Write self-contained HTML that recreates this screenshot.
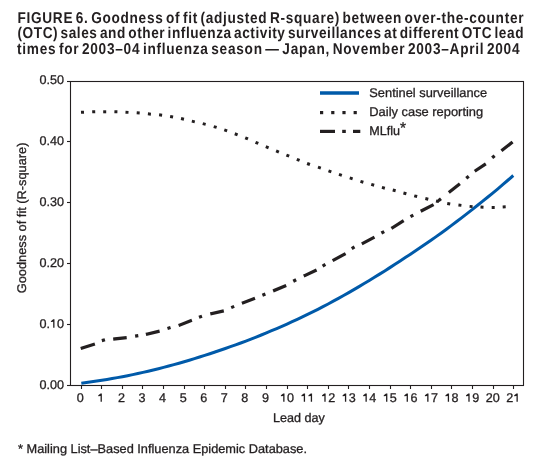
<!DOCTYPE html>
<html><head><meta charset="utf-8"><style>
html,body{margin:0;padding:0;background:#fff;}
body{width:558px;height:456px;overflow:hidden;position:relative;}
svg{position:absolute;left:0;top:0;will-change:transform;}
text{font-family:"Liberation Sans",sans-serif;fill:#231f20;text-rendering:geometricPrecision;}
.t{word-spacing:-2.2px;font-weight:bold;font-size:15.7px;}
.l{font-size:12.6px;stroke:#231f20;stroke-width:0.3px;}
</style></head><body>
<svg width="558" height="456" viewBox="0 0 558 456">
<g class="t">
<text transform="translate(17.5,23.0) scale(0.87,1)" textLength="581.6" lengthAdjust="spacing">FIGURE 6. Goodness of fit (adjusted R-square) between over-the-counter</text>
<text transform="translate(17.5,38.4) scale(0.87,1)" textLength="581.6" lengthAdjust="spacing">(OTC) sales and other influenza activity surveillances at different OTC lead</text>
<text transform="translate(17,54.0) scale(0.87,1)" textLength="577.6" lengthAdjust="spacing">times for 2003–04 influenza season — Japan, November 2003–April 2004</text>
</g>
<g stroke="#231f20" stroke-width="1.1" fill="none">
<rect x="70.5" y="81.5" width="453" height="304"/>
<line x1="67" y1="81.5" x2="70.5" y2="81.5"/><line x1="67" y1="141.5" x2="70.5" y2="141.5"/><line x1="67" y1="202.5" x2="70.5" y2="202.5"/><line x1="67" y1="263.5" x2="70.5" y2="263.5"/><line x1="67" y1="324.5" x2="70.5" y2="324.5"/><line x1="67" y1="385.5" x2="70.5" y2="385.5"/><line x1="81.5" y1="385.5" x2="81.5" y2="389"/><line x1="101.5" y1="385.5" x2="101.5" y2="389"/><line x1="122.5" y1="385.5" x2="122.5" y2="389"/><line x1="142.5" y1="385.5" x2="142.5" y2="389"/><line x1="163.5" y1="385.5" x2="163.5" y2="389"/><line x1="184.5" y1="385.5" x2="184.5" y2="389"/><line x1="204.5" y1="385.5" x2="204.5" y2="389"/><line x1="225.5" y1="385.5" x2="225.5" y2="389"/><line x1="245.5" y1="385.5" x2="245.5" y2="389"/><line x1="266.5" y1="385.5" x2="266.5" y2="389"/><line x1="287.5" y1="385.5" x2="287.5" y2="389"/><line x1="307.5" y1="385.5" x2="307.5" y2="389"/><line x1="328.5" y1="385.5" x2="328.5" y2="389"/><line x1="348.5" y1="385.5" x2="348.5" y2="389"/><line x1="369.5" y1="385.5" x2="369.5" y2="389"/><line x1="390.5" y1="385.5" x2="390.5" y2="389"/><line x1="410.5" y1="385.5" x2="410.5" y2="389"/><line x1="431.5" y1="385.5" x2="431.5" y2="389"/><line x1="451.5" y1="385.5" x2="451.5" y2="389"/><line x1="472.5" y1="385.5" x2="472.5" y2="389"/><line x1="493.5" y1="385.5" x2="493.5" y2="389"/><line x1="513.5" y1="385.5" x2="513.5" y2="389"/>
</g>
<g class="l">
<text x="64.00" y="83.8" text-anchor="end">0.50</text><text x="64.00" y="144.8" text-anchor="end">0.40</text><text x="64.00" y="205.8" text-anchor="end">0.30</text><text x="64.00" y="266.8" text-anchor="end">0.20</text><text x="64.00" y="327.8" text-anchor="end">0. 0</text><text x="64.00" y="388.8" text-anchor="end">0.00</text><text x="80.30" y="402" text-anchor="middle">0</text><text x="100.87" y="402" text-anchor="middle"> </text><text x="121.44" y="402" text-anchor="middle">2</text><text x="142.01" y="402" text-anchor="middle">3</text><text x="162.58" y="402" text-anchor="middle">4</text><text x="183.16" y="402" text-anchor="middle">5</text><text x="203.73" y="402" text-anchor="middle">6</text><text x="224.30" y="402" text-anchor="middle">7</text><text x="244.87" y="402" text-anchor="middle">8</text><text x="265.44" y="402" text-anchor="middle">9</text><text x="287.01" y="402" text-anchor="middle"> 0</text><text x="307.58" y="402" text-anchor="middle">  </text><text x="328.15" y="402" text-anchor="middle"> 2</text><text x="348.72" y="402" text-anchor="middle"> 3</text><text x="369.29" y="402" text-anchor="middle"> 4</text><text x="389.87" y="402" text-anchor="middle"> 5</text><text x="410.44" y="402" text-anchor="middle"> 6</text><text x="431.01" y="402" text-anchor="middle"> 7</text><text x="451.58" y="402" text-anchor="middle"> 8</text><text x="472.15" y="402" text-anchor="middle"> 9</text><text x="492.72" y="402" text-anchor="middle">20</text><text x="513.29" y="402" text-anchor="middle">2 </text>
<text x="273" y="421.5">Lead day</text>
<text transform="translate(25.6,293.2) rotate(-90)" textLength="150.6" lengthAdjust="spacingAndGlyphs">Goodness of fit (R-square)</text>
<text x="18" y="452.8" textLength="289" lengthAdjust="spacingAndGlyphs">* Mailing List–Based Influenza Epidemic Database.</text>
<text x="369.3" y="96.6" textLength="117.8" lengthAdjust="spacingAndGlyphs">Sentinel surveillance</text>
<text x="369.3" y="115.7" textLength="113.9" lengthAdjust="spacingAndGlyphs">Daily case reporting</text>
<text x="369.3" y="134.8">MLflu<tspan dy="-2.1" font-size="15.5px">*</tspan></text>
</g>
<polyline points="81.30,383.25 86.44,382.58 91.59,381.86 96.73,381.10 101.87,380.30 107.01,379.46 112.16,378.57 117.30,377.64 122.44,376.67 127.58,375.66 132.73,374.61 137.87,373.52 143.01,372.39 148.16,371.21 153.30,369.99 158.44,368.73 163.58,367.42 168.73,366.07 173.87,364.67 179.01,363.23 184.16,361.75 189.30,360.22 194.44,358.66 199.58,357.05 204.73,355.40 209.87,353.72 215.01,352.01 220.15,350.27 225.30,348.50 230.44,346.70 235.58,344.86 240.73,342.98 245.87,341.06 251.01,339.09 256.15,337.08 261.30,335.01 266.44,332.90 271.58,330.74 276.72,328.54 281.87,326.31 287.01,324.04 292.15,321.72 297.30,319.36 302.44,316.94 307.58,314.47 312.72,311.94 317.87,309.35 323.01,306.70 328.15,303.97 333.29,301.19 338.44,298.37 343.58,295.50 348.72,292.58 353.87,289.62 359.01,286.62 364.15,283.57 369.29,280.47 374.44,277.33 379.58,274.14 384.72,270.91 389.87,267.63 395.01,264.32 400.15,260.99 405.29,257.62 410.44,254.23 415.58,250.79 420.72,247.32 425.86,243.80 431.01,240.23 436.15,236.61 441.29,232.92 446.44,229.18 451.58,225.37 456.72,221.51 461.86,217.59 467.01,213.63 472.15,209.61 477.29,205.55 482.43,201.44 487.58,197.28 492.72,193.08 497.86,188.80 503.01,184.43 508.15,179.99 513.29,175.50" fill="none" stroke="#005aa9" stroke-width="3.0" stroke-linejoin="round"/>
<g fill="#231f20"><rect x="-1.5" y="-1.5" width="3" height="3" transform="translate(82.50,112.30) rotate(-2.6)"/><rect x="-1.5" y="-1.5" width="3" height="3" transform="translate(93.70,111.80) rotate(-1.3)"/><rect x="-1.5" y="-1.5" width="3" height="3" transform="translate(104.70,111.80) rotate(0.0)"/><rect x="-1.5" y="-1.5" width="3" height="3" transform="translate(115.90,111.80) rotate(1.3)"/><rect x="-1.5" y="-1.5" width="3" height="3" transform="translate(127.00,112.30) rotate(2.8)"/><rect x="-1.5" y="-1.5" width="3" height="3" transform="translate(138.20,112.90) rotate(4.3)"/><rect x="-1.5" y="-1.5" width="3" height="3" transform="translate(149.40,114.00) rotate(5.4)"/><rect x="-1.5" y="-1.5" width="3" height="3" transform="translate(160.60,115.00) rotate(7.2)"/><rect x="-1.5" y="-1.5" width="3" height="3" transform="translate(171.60,116.80) rotate(10.1)"/><rect x="-1.5" y="-1.5" width="3" height="3" transform="translate(182.50,118.90) rotate(12.2)"/><rect x="-1.5" y="-1.5" width="3" height="3" transform="translate(193.30,121.50) rotate(13.2)"/><rect x="-1.5" y="-1.5" width="3" height="3" transform="translate(204.20,124.00) rotate(14.1)"/><rect x="-1.5" y="-1.5" width="3" height="3" transform="translate(215.20,127.00) rotate(16.6)"/><rect x="-1.5" y="-1.5" width="3" height="3" transform="translate(225.70,130.40) rotate(19.2)"/><rect x="-1.5" y="-1.5" width="3" height="3" transform="translate(236.20,134.30) rotate(20.9)"/><rect x="-1.5" y="-1.5" width="3" height="3" transform="translate(246.60,138.40) rotate(22.6)"/><rect x="-1.5" y="-1.5" width="3" height="3" transform="translate(256.90,142.90) rotate(23.1)"/><rect x="-1.5" y="-1.5" width="3" height="3" transform="translate(267.20,147.20) rotate(22.7)"/><rect x="-1.5" y="-1.5" width="3" height="3" transform="translate(277.50,151.50) rotate(22.2)"/><rect x="-1.5" y="-1.5" width="3" height="3" transform="translate(287.80,155.60) rotate(22.1)"/><rect x="-1.5" y="-1.5" width="3" height="3" transform="translate(298.20,159.90) rotate(22.1)"/><rect x="-1.5" y="-1.5" width="3" height="3" transform="translate(308.50,164.00) rotate(20.0)"/><rect x="-1.5" y="-1.5" width="3" height="3" transform="translate(319.40,167.60) rotate(18.8)"/><rect x="-1.5" y="-1.5" width="3" height="3" transform="translate(329.90,171.30) rotate(19.2)"/><rect x="-1.5" y="-1.5" width="3" height="3" transform="translate(340.40,174.90) rotate(18.4)"/><rect x="-1.5" y="-1.5" width="3" height="3" transform="translate(351.20,178.40) rotate(17.8)"/><rect x="-1.5" y="-1.5" width="3" height="3" transform="translate(361.90,181.80) rotate(16.6)"/><rect x="-1.5" y="-1.5" width="3" height="3" transform="translate(372.70,184.80) rotate(15.6)"/><rect x="-1.5" y="-1.5" width="3" height="3" transform="translate(383.40,187.80) rotate(14.6)"/><rect x="-1.5" y="-1.5" width="3" height="3" transform="translate(394.20,190.40) rotate(14.6)"/><rect x="-1.5" y="-1.5" width="3" height="3" transform="translate(404.90,193.40) rotate(15.1)"/><rect x="-1.5" y="-1.5" width="3" height="3" transform="translate(415.70,196.20) rotate(14.1)"/><rect x="-1.5" y="-1.5" width="3" height="3" transform="translate(426.80,198.90) rotate(13.2)"/><rect x="-1.5" y="-1.5" width="3" height="3" transform="translate(437.50,201.30) rotate(12.4)"/><rect x="-1.5" y="-1.5" width="3" height="3" transform="translate(448.70,203.70) rotate(9.9)"/><rect x="-1.5" y="-1.5" width="3" height="3" transform="translate(459.90,205.20) rotate(7.1)"/><rect x="-1.5" y="-1.5" width="3" height="3" transform="translate(471.10,206.50) rotate(4.9)"/><rect x="-1.5" y="-1.5" width="3" height="3" transform="translate(482.00,207.10) rotate(2.6)"/><rect x="-1.5" y="-1.5" width="3" height="3" transform="translate(493.20,207.50) rotate(-0.5)"/><rect x="-1.5" y="-1.5" width="3" height="3" transform="translate(504.20,206.90) rotate(-3.1)"/><rect x="-1.6" y="-1.6" width="3.2" height="3.2" transform="translate(103.40,340.20) rotate(-15.1)"/><rect x="-1.6" y="-1.6" width="3.2" height="3.2" transform="translate(136.70,335.90) rotate(-9.4)"/><rect x="-1.6" y="-1.6" width="3.2" height="3.2" transform="translate(169.00,328.00) rotate(-16.8)"/><rect x="-1.6" y="-1.6" width="3.2" height="3.2" transform="translate(200.50,316.70) rotate(-19.3)"/><rect x="-1.6" y="-1.6" width="3.2" height="3.2" transform="translate(232.70,307.00) rotate(-22.6)"/><rect x="-1.6" y="-1.6" width="3.2" height="3.2" transform="translate(263.90,294.70) rotate(-22.3)"/><rect x="-1.6" y="-1.6" width="3.2" height="3.2" transform="translate(294.70,280.50) rotate(-28.2)"/><rect x="-1.6" y="-1.6" width="3.2" height="3.2" transform="translate(324.00,265.30) rotate(-30.4)"/><rect x="-1.6" y="-1.6" width="3.2" height="3.2" transform="translate(353.10,247.70) rotate(-30.9)"/><rect x="-1.6" y="-1.6" width="3.2" height="3.2" transform="translate(382.80,232.30) rotate(-27.2)"/><rect x="-1.6" y="-1.6" width="3.2" height="3.2" transform="translate(411.90,215.90) rotate(-28.9)"/><rect x="-1.6" y="-1.6" width="3.2" height="3.2" transform="translate(439.70,199.80) rotate(-38.2)"/><rect x="-1.6" y="-1.6" width="3.2" height="3.2" transform="translate(467.50,177.20) rotate(-40.0)"/><rect x="-1.6" y="-1.6" width="3.2" height="3.2" transform="translate(493.40,156.80) rotate(-39.9)"/><path d="M100.57,393.40 L101.87,393.40 L101.87,401.85 L100.57,401.85 L100.57,396.00 L98.27,396.15 L98.27,395.35 Z"/><path d="M283.20,393.40 L284.50,393.40 L284.50,401.85 L283.20,401.85 L283.20,396.00 L280.90,396.15 L280.90,395.35 Z"/><path d="M303.77,393.40 L305.07,393.40 L305.07,401.85 L303.77,401.85 L303.77,396.00 L301.47,396.15 L301.47,395.35 Z"/><path d="M310.78,393.40 L312.08,393.40 L312.08,401.85 L310.78,401.85 L310.78,396.00 L308.48,396.15 L308.48,395.35 Z"/><path d="M324.34,393.40 L325.64,393.40 L325.64,401.85 L324.34,401.85 L324.34,396.00 L322.04,396.15 L322.04,395.35 Z"/><path d="M344.92,393.40 L346.22,393.40 L346.22,401.85 L344.92,401.85 L344.92,396.00 L342.62,396.15 L342.62,395.35 Z"/><path d="M365.49,393.40 L366.79,393.40 L366.79,401.85 L365.49,401.85 L365.49,396.00 L363.19,396.15 L363.19,395.35 Z"/><path d="M386.06,393.40 L387.36,393.40 L387.36,401.85 L386.06,401.85 L386.06,396.00 L383.76,396.15 L383.76,395.35 Z"/><path d="M406.63,393.40 L407.93,393.40 L407.93,401.85 L406.63,401.85 L406.63,396.00 L404.33,396.15 L404.33,395.35 Z"/><path d="M427.20,393.40 L428.50,393.40 L428.50,401.85 L427.20,401.85 L427.20,396.00 L424.90,396.15 L424.90,395.35 Z"/><path d="M447.77,393.40 L449.07,393.40 L449.07,401.85 L447.77,401.85 L447.77,396.00 L445.47,396.15 L445.47,395.35 Z"/><path d="M468.34,393.40 L469.64,393.40 L469.64,401.85 L468.34,401.85 L468.34,396.00 L466.04,396.15 L466.04,395.35 Z"/><path d="M516.49,393.40 L517.79,393.40 L517.79,401.85 L516.49,401.85 L516.49,396.00 L514.19,396.15 L514.19,395.35 Z"/><path d="M53.18,319.20 L54.48,319.20 L54.48,327.65 L53.18,327.65 L53.18,321.80 L50.88,321.95 L50.88,321.15 Z"/></g>
<g stroke="#231f20" stroke-width="3.2" stroke-linecap="square"><line x1="82.23" y1="347.96" x2="93.37" y2="344.54"/><line x1="114.79" y1="338.93" x2="125.11" y2="337.77"/><line x1="147.46" y1="334.05" x2="158.04" y2="331.55"/><line x1="180.10" y1="324.87" x2="190.40" y2="320.93"/><line x1="211.86" y1="313.57" x2="222.24" y2="311.23"/><line x1="243.40" y1="302.77" x2="253.50" y2="298.93"/><line x1="274.58" y1="290.32" x2="284.72" y2="286.08"/><line x1="305.16" y1="275.37" x2="315.14" y2="270.73"/><line x1="334.02" y1="259.88" x2="344.18" y2="254.32"/><line x1="363.23" y1="243.10" x2="373.07" y2="237.90"/><line x1="392.77" y1="227.59" x2="402.33" y2="221.51"/><line x1="422.13" y1="210.51" x2="432.17" y2="205.29"/><line x1="450.07" y1="191.56" x2="458.63" y2="184.74"/><line x1="476.05" y1="170.37" x2="484.45" y2="164.83"/><line x1="502.68" y1="149.87" x2="511.32" y2="143.03"/></g>
<line x1="320" y1="93" x2="359" y2="93" stroke="#005aa9" stroke-width="3.6"/>
<g fill="#231f20">
<rect x="320" y="111" width="3.2" height="3.2"/><rect x="331.2" y="111" width="3.2" height="3.2"/><rect x="342.4" y="111" width="3.2" height="3.2"/><rect x="353.6" y="111" width="3.2" height="3.2"/>
<rect x="320" y="129.8" width="15" height="3.2"/><rect x="342.2" y="129.8" width="3.6" height="3.2"/><rect x="353" y="129.8" width="7.3" height="3.2"/>
</g>
</svg>
</body></html>
